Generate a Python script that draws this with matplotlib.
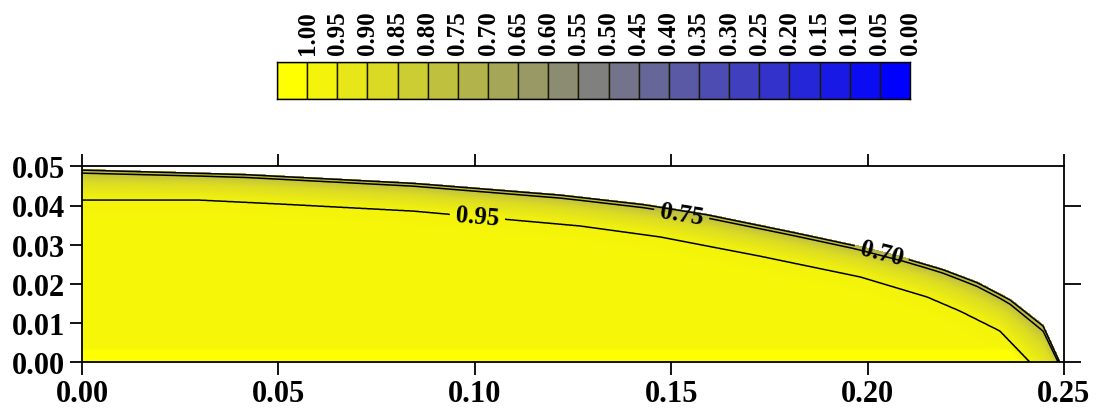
import numpy as np
import matplotlib
matplotlib.use("Agg")
import matplotlib.pyplot as plt
from matplotlib.colors import LinearSegmentedColormap, Normalize

# ---------------- data ----------------
# colour-scale entries (one box each)
scale_values = [1.00, 0.95, 0.90, 0.85, 0.80, 0.75, 0.70, 0.65, 0.60, 0.55, 0.50,
                0.45, 0.40, 0.35, 0.30, 0.25, 0.20, 0.15, 0.10, 0.05, 0.00]
scale_labels = ["%.2f" % v for v in scale_values]

# free-surface profile of the drop (x, height)
surf_x = [0.0, 0.042, 0.0843, 0.1217, 0.1428, 0.1591, 0.181, 0.1963, 0.209,
          0.2192, 0.2279, 0.2363, 0.2447, 0.249]
surf_y = [0.0492, 0.0480, 0.0458, 0.0428, 0.0404, 0.0378, 0.0333, 0.0300, 0.0268,
          0.0238, 0.0205, 0.0161, 0.0095, 0.0]

# the 0.95 iso-line (x, height)
iso95_x = [0.0, 0.030, 0.0504, 0.0843, 0.1268, 0.1472, 0.1726, 0.1981, 0.2151,
           0.2235, 0.2337, 0.2414, 0.249]
iso95_y = [0.0414, 0.0414, 0.0404, 0.0386, 0.0348, 0.0320, 0.0271, 0.0218, 0.0167,
           0.0131, 0.0080, 0.0, -0.008]

# value profile across the surface layer (relative depth -> value)
depth_knots = [-1.0, 0.0, 0.02, 0.12, 0.45, 1.0, 1.6]
depth_values = [0.50, 0.68, 0.70, 0.75, 0.86, 0.95, 0.962]

line_levels = [0.70, 0.75, 0.95]
label_pos = {0.95: (0.1008, 0.0378), 0.75: (0.153, 0.0395), 0.70: (0.2037, 0.0285)}

x_ticks = [0.00, 0.05, 0.10, 0.15, 0.20, 0.25]
y_ticks = [0.00, 0.01, 0.02, 0.03, 0.04, 0.05]
y_ticks_right = [0.00, 0.02, 0.04]

# ---------------- figure ----------------
plt.rcParams['font.family'] = ['Liberation Serif', 'DejaVu Serif']
cmap = LinearSegmentedColormap.from_list("by", [(0, 0, 1), (1, 1, 0)])
norm = Normalize(0, 1)

fig = plt.figure(figsize=(10.96, 4.14), dpi=100)

# main axes
ax = fig.add_axes([82 / 1096, (414 - 363.3) / 414, 982 / 1096, 196 / 414])

xs = np.linspace(0, 0.25, 1400)
ys = np.linspace(0, 0.05, 600)
X, Y = np.meshgrid(xs, ys)
hs = np.interp(X, surf_x, surf_y)
h95 = np.interp(X, iso95_x, iso95_y)
D = np.maximum(hs - h95, 1e-4)
T = (hs - Y) / D
V = np.interp(T, depth_knots, depth_values)
w = np.interp(Y, [0, 0.0026, 0.0036], [1, 1, 0])
gate = np.clip((T - 1.05) / 0.25, 0, 1)
V = V + w * gate * (1.0 - V)

fill_levels = np.linspace(0.68, 1.0001, 90)
ax.contourf(X, Y, V, levels=fill_levels, cmap=cmap, norm=norm)
for lev in line_levels:
    cs = ax.contour(X, Y, V, levels=[lev], colors='k', linewidths=1.1)
    ax.clabel(cs, manual=[label_pos[lev]], fmt='%.2f',
              fontsize=18, inline=True, inline_spacing=6)
    for t in cs.labelTexts:
        t.set_fontweight('bold')

ax.set_xlim(0, 0.25)
ax.set_ylim(0, 0.05)
ax.set_xticks(x_ticks)
ax.set_yticks(y_ticks)
ax.set_xticklabels(["%.2f" % v for v in x_ticks])
ax.set_yticklabels(["%.2f" % v for v in y_ticks])
ax.tick_params(direction='out', length=9, width=1.3, labelsize=22, pad=3,
               top=True, labeltop=False)
ax.tick_params(axis='y', right=False)
for lab in ax.get_xticklabels() + ax.get_yticklabels():
    lab.set_fontweight('bold')
for sp in ax.spines.values():
    sp.set_linewidth(1.3)

axr = ax.twinx()
axr.set_ylim(0, 0.05)
axr.set_yticks(y_ticks_right)
axr.set_yticklabels([])
axr.tick_params(direction='out', length=12, width=1.3)
for sp in axr.spines.values():
    sp.set_visible(False)

# colour scale
cb = fig.add_axes([277 / 1096, (414 - 100) / 414, 633 / 1096, 37 / 414])
n = len(scale_values)
cb.bar(np.arange(n), [1] * n, width=1, align='edge',
       color=[cmap(norm(v)) for v in scale_values], edgecolor='#1a1a00', linewidth=1.0)
cb.set_xlim(0, n)
cb.set_ylim(0, 1)
cb.set_yticks([])
cb.set_xticks(np.arange(n) + 1)
cb.set_xticklabels(scale_labels, rotation=90, fontsize=18, fontweight='bold')
cb.tick_params(axis='x', length=0, top=True, bottom=False, labeltop=True,
               labelbottom=False, pad=6)
for sp in cb.spines.values():
    sp.set_linewidth(1.0)

fig.savefig("out.png", dpi=100, facecolor='white')
